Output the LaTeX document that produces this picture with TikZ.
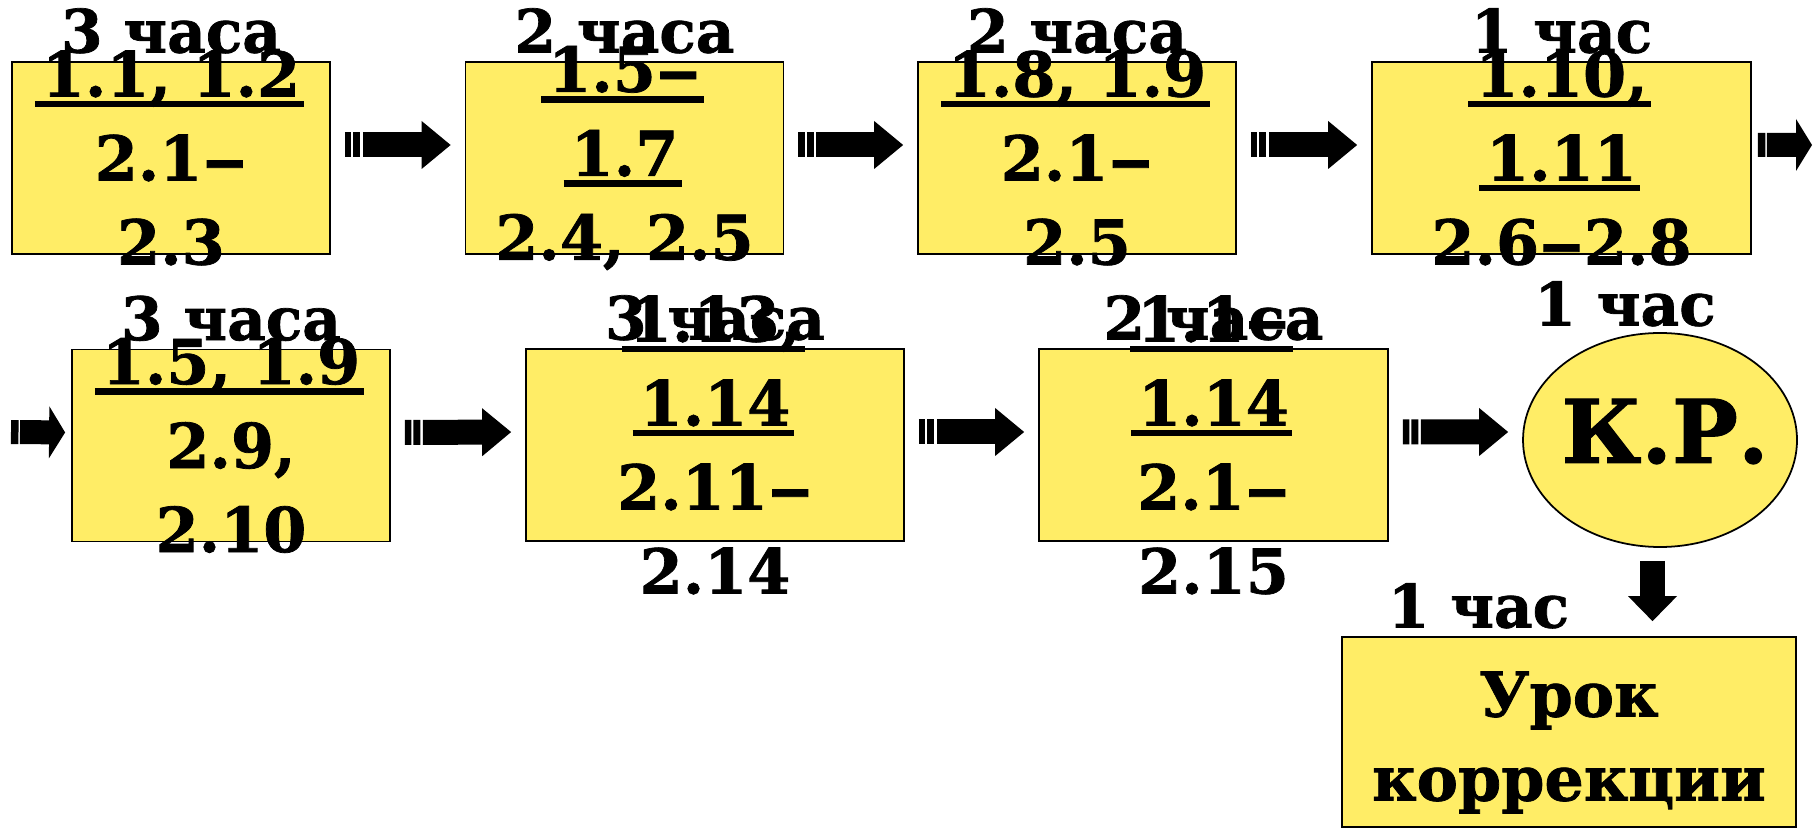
\documentclass[tikz,border=0pt]{standalone}
\usepackage{graphicx}
\usepackage{fontspec}
\setmainfont{DejaVu Serif}[BoldFeatures={FakeBold=1.2}]
\usepackage{tikz}
\usetikzlibrary{positioning}
\usetikzlibrary{arrows.meta}
\usetikzlibrary{shapes.geometric}
\definecolor{plan_yellow}{RGB}{255,237,102}
\newcommand{\ulnum}[1]{\setbox0\hbox{#1}\rlap{\kern-2pt\rule[-3.1pt]{\dimexpr\wd0+3pt\relax}{1.9pt}}\box0}
\newcommand{\wdash}{\scalebox{1.45}[1]{–}}
\tikzset{my_plan/.style={line cap=butt}}
\tikzset{my_box/.style={rectangle, draw, line width=0.5pt, fill=plan_yellow, inner sep=0pt, minimum height=1.92cm}}
\tikzset{my_text/.style={align=center, inner sep=0pt, font=\bfseries\fontsize{17.6}{23.9}\selectfont}}
\tikzset{my_hours/.style={inner sep=0pt, font=\bfseries\fontsize{17}{20}\selectfont}}
\tikzset{my_flow/.style={line width=0.25cm, -{Triangle[length=0.29cm,width=0.48cm,line width=0pt]}, shorten <=0.14cm, shorten >=0.14cm, dash pattern=on 0.065cm off 0.02cm on 0.07cm off 0.025cm on 30cm}}
\tikzset{my_edge_flow/.style={line width=0.24cm, -{Triangle[length=0.16cm,width=0.52cm,line width=0pt]}, dash pattern=on 0.075cm off 0.015cm on 30cm}}
\tikzset{my_down_flow/.style={line width=0.25cm, -{Triangle[length=0.25cm,width=0.49cm,line width=0pt]}, shorten <=0.13cm, shorten >=0.15cm}}

\begin{document}
\begin{tikzpicture}[my_plan]
    \useasboundingbox (0,0) rectangle (18.16,-8.29);
    %\draw[help lines] (0,0) grid (18,-8);
    \node[my_box, minimum width=3.18cm] (r1a) at (1.71,-1.58) {};
    \node[my_box, minimum width=3.18cm] (r1b) at (6.245,-1.58) {};
    \node[my_box, minimum width=3.18cm] (r1c) at (10.77,-1.58) {};
    \node[my_box, minimum width=3.79cm] (r1d) at (15.615,-1.58) {};
    \node[my_box, minimum width=3.18cm] (r2a) at (2.31,-4.455) {};
    \node[my_box, minimum width=3.78cm] (r2b) at (7.15,-4.45) {};
    \node[my_box, minimum width=3.49cm] (r2c) at (12.135,-4.45) {};
    \node[ellipse, draw, line width=0.5pt, fill=plan_yellow, inner sep=0pt,
          minimum width=2.74cm, minimum height=2.14cm] (kr) at (16.60,-4.40) {};
    \node[my_box, minimum width=4.54cm, minimum height=1.90cm] (urok) at (15.69,-7.32) {};
    \coordinate (edge_r) at (18.12,-1.45);
    \coordinate (edge_l) at (0.11,-4.32);
    \coordinate (kr_foot) at ([xshift=-0.075cm]kr.south);

    \node[my_hours, above=0.07cm of r1a] (h1a) {3 часа};
    \node[my_hours, above=0.07cm of r1b] (h1b) {2 часа};
    \node[my_hours, above=0.07cm of r1c] (h1c) {2 часа};
    \node[my_hours, above=0.07cm of r1d] (h1d) {1 час};
    \node[my_hours, above=0.07cm of r2a] (h2a) {3 часа};
    \node[my_hours, above=0.07cm of r2b] (h2b) {3 часа};
    \node[my_hours, above=0.07cm of r2c] (h2c) {2 часа};
    \node[my_hours, above=0.05cm of kr, xshift=-0.35cm] (hkr) {1 час};
    \node[my_hours, above right=0.07cm and 0.46cm of urok.north west] (hurok) {1 час};

    \node[my_text] (t1a) at (r1a) {\ulnum{1.1, 1.2}\\2.1\wdash\\2.3};
    \node[my_text] (t1b) at (r1b) {\ulnum{1.5\wdash}\\\ulnum{1.7}\\2.4, 2.5};
    \node[my_text] (t1c) at (r1c) {\ulnum{1.8, 1.9}\\2.1\wdash\\2.5};
    \node[my_text] (t1d) at (r1d) {\ulnum{1.10,}\\\ulnum{1.11}\\2.6\wdash2.8};
    \node[my_text] (t2a) at (r2a) {\ulnum{1.5, 1.9}\\2.9,\\2.10};
    \node[my_text] (t2b) at (r2b) {\ulnum{1.13,}\\\ulnum{1.14}\\2.11\wdash\\2.14};
    \node[my_text] (t2c) at (r2c) {\ulnum{1.1\wdash}\\\ulnum{1.14}\\2.1\wdash\\2.15};
    \node[my_text, font=\bfseries\fontsize{25}{30}\selectfont] (tkr) at ([shift={(0.05,0.085)}]kr) {К.Р.};
    \node[my_text] (turok) at ([yshift=-0.105cm]urok) {Урок\\коррекции};

    \draw[my_flow] ([yshift=0.13cm]r1a.east) -- ([yshift=0.13cm]r1b.west);
    \draw[my_flow] ([yshift=0.13cm]r1b.east) -- ([yshift=0.13cm]r1c.west);
    \draw[my_flow] ([yshift=0.13cm]r1c.east) -- ([yshift=0.13cm]r1d.west);
    \draw[my_edge_flow, shorten <=0.06cm] ([yshift=0.13cm]r1d.east) -- (edge_r);
    \draw[my_edge_flow, shorten >=0.06cm] (edge_l) -- ([yshift=0.13cm]r2a.west);
    \draw[my_flow] ([yshift=0.13cm]r2a.east) -- ([yshift=0.13cm]r2b.west);
    \draw[my_flow] ([yshift=0.13cm]r2b.east) -- ([yshift=0.13cm]r2c.west);
    \draw[my_flow] ([yshift=0.13cm]r2c.east) -- ([yshift=0.08cm]kr.west);
    \draw[my_down_flow] (kr_foot) -- (kr_foot |- urok.north);
\end{tikzpicture}
\end{document}
